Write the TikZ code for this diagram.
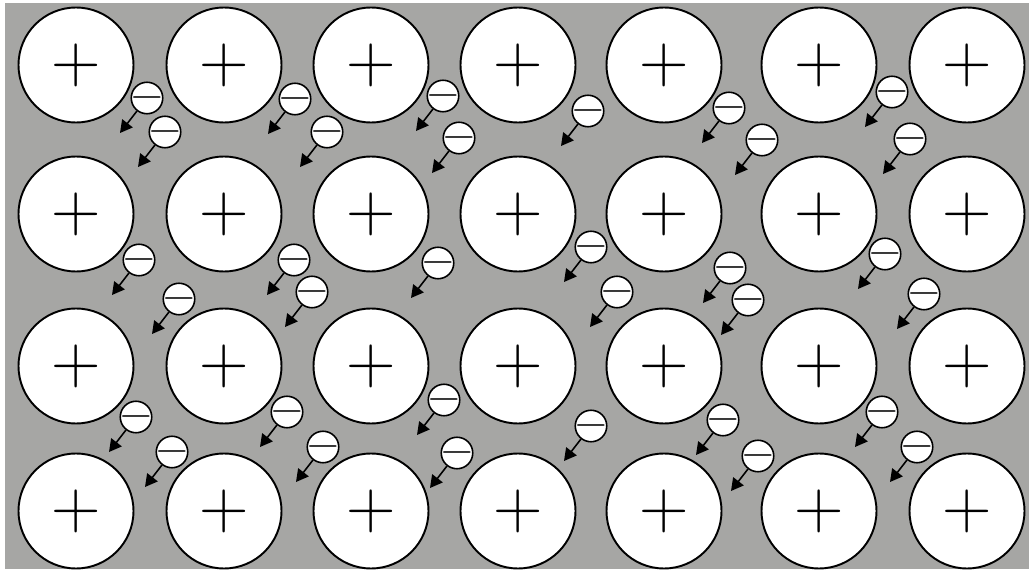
\documentclass[tikz,border=0pt]{standalone}
\usepackage{fontspec}
\usetikzlibrary{arrows.meta}
\definecolor{bggray}{RGB}{166,166,164}

\begin{document}
\begin{tikzpicture}[x=0.02cm,y=-0.02cm,>={Triangle[length=7pt,width=7.5pt]},
  ion/.style={draw,circle,fill=white,line width=1.1pt,minimum size=2.3cm,inner sep=0pt,font=\fontsize{39}{39}\selectfont},
  elec/.style={draw,circle,fill=white,line width=0.9pt,minimum size=0.63cm,inner sep=0pt,text height=12.5pt,text depth=0pt,font=\fontsize{25}{25}\selectfont},
  drift/.style={->,line width=0.9pt}]
\fill[white] (0,0) rectangle (1029,571);
\fill[bggray] (5,3) rectangle (1029,569);
\foreach \r/\y in {1/65,2/214,3/366,4/511}
  \foreach \c/\x in {1/76,2/224,3/371,4/518,5/664,6/819,7/967}
    \node[ion] (p\r\c) at (\x,\y) {+};
\foreach \x/\y [count=\i] in {147/98,165/132,295/99,327/132,443/96,459/138,588/111,729/108,762/140,892/92,910/139,
  139/260,179/299,294/260,312/292,438/263,591/247,617/292,730/268,748/300,885/254,924/294,
  136/417,172/452,287/412,323/447,444/400,457/453,591/426,723/420,758/456,882/412,917/447}{
  \node[elec] (e\i) at (\x,\y) {\makebox[0pt]{−}};
  \coordinate (t\i) at (\x-27,\y+35);
  \draw[drift] (e\i) -- (t\i);
}
\end{tikzpicture}
\end{document}
